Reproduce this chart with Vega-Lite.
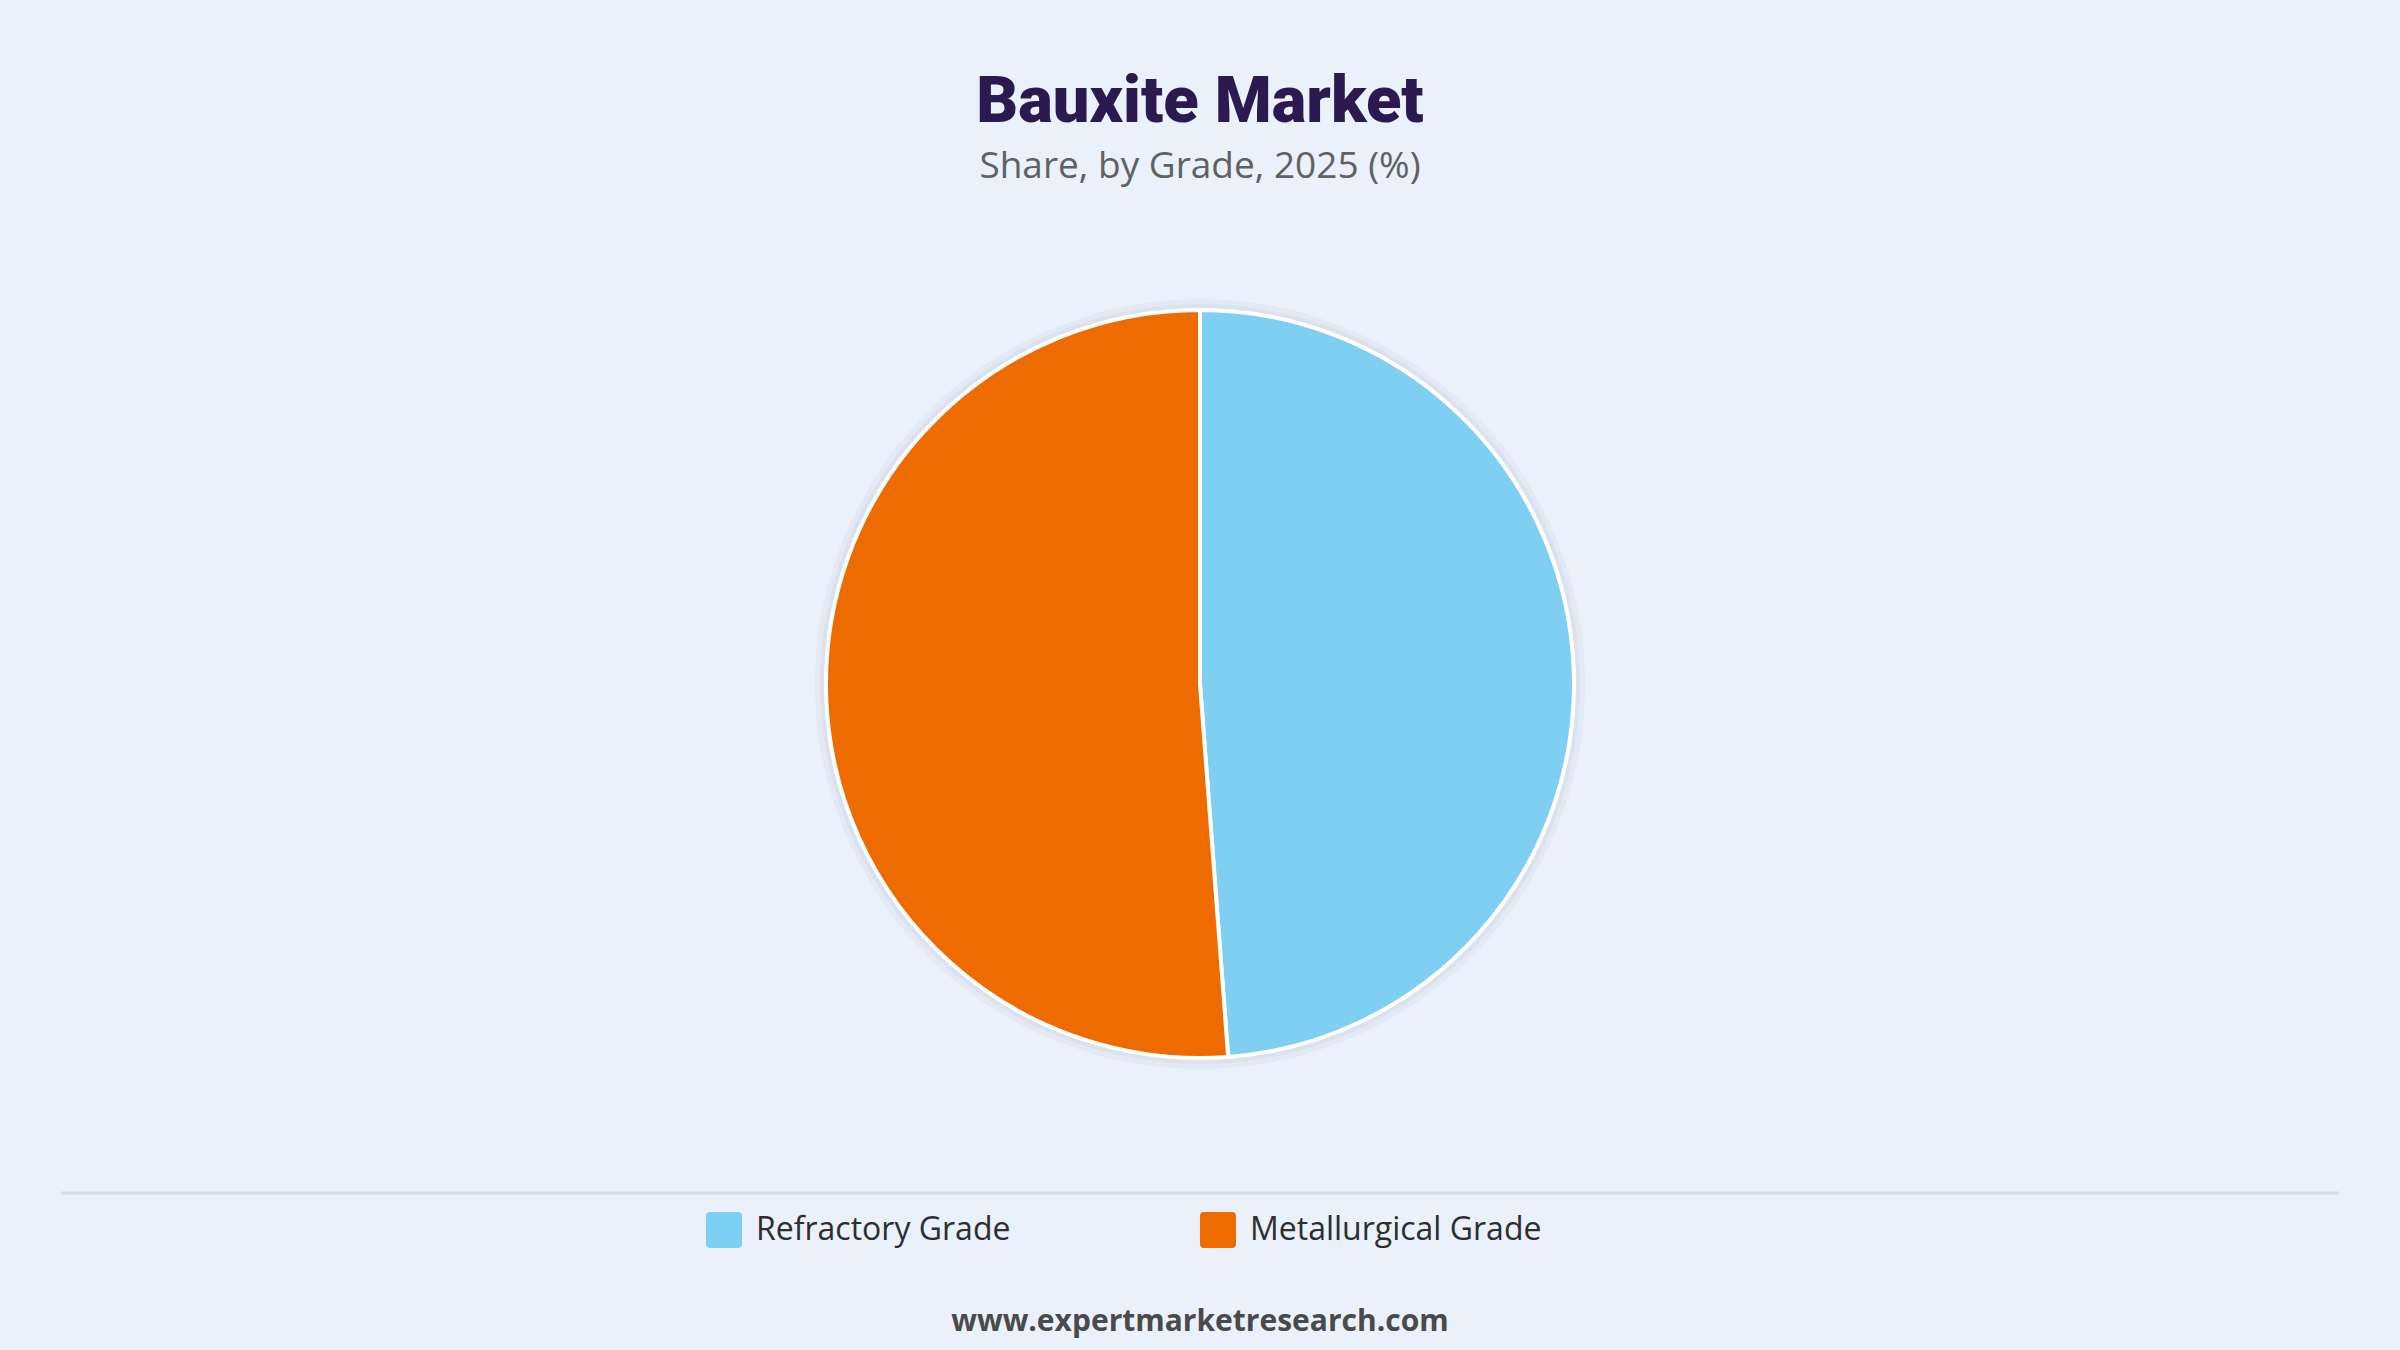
{
  "$schema": "https://vega.github.io/schema/vega-lite/v6.json",
  "autosize": "none",
  "width": 2400,
  "height": 968,
  "padding": {"top": 200, "bottom": 182, "left": 0, "right": 0},
  "background": "#eaf1fb",
  "config": {"view": {"stroke": null}},
  "title": {
    "text": "Bauxite Market",
    "subtitle": "Share, by Grade, 2025 (%)",
    "anchor": "middle",
    "orient": "top",
    "offset": 14,
    "font": "Roboto",
    "fontSize": 65,
    "fontWeight": 900,
    "color": "#2b1a4f",
    "subtitleFont": "Open Sans",
    "subtitleFontSize": 37,
    "subtitleFontWeight": 500,
    "subtitleColor": "#616161",
    "subtitlePadding": 13
  },
  "data": {"values": [
    {"grade": "Refractory Grade", "share": 48.8},
    {"grade": "Metallurgical Grade", "share": 51.2}
  ]},
  "layer": [
    {
      "mark": {"type": "arc", "outerRadius": 385, "color": "#b8c0cc", "opacity": 0.12, "strokeWidth": 0},
      "encoding": {
        "theta": {"field": "share", "type": "quantitative", "stack": true},
        "order": {"field": "share", "sort": "ascending"}
      }
    },
    {
      "mark": {"type": "arc", "outerRadius": 380, "color": "#b8c0cc", "opacity": 0.18, "strokeWidth": 0},
      "encoding": {
        "theta": {"field": "share", "type": "quantitative", "stack": true},
        "order": {"field": "share", "sort": "ascending"}
      }
    },
    {
      "mark": {"type": "arc", "outerRadius": 374, "stroke": "#ffffff", "strokeWidth": 4},
      "encoding": {
        "theta": {"field": "share", "type": "quantitative", "stack": true},
        "order": {"field": "share", "sort": "ascending"},
        "color": {
          "field": "grade",
          "type": "nominal",
          "scale": {"domain": ["Refractory Grade", "Metallurgical Grade"], "range": ["#7fcff2", "#ee6b00"]},
          "legend": {
            "title": null,
            "orient": "none",
            "direction": "horizontal",
            "legendX": 706,
            "legendY": 1012,
            "padding": 0,
            "symbolType": "M-0.78,-1H0.78Q1,-1,1,-0.78V0.78Q1,1,0.78,1H-0.78Q-1,1,-1,0.78V-0.78Q-1,-1,-0.78,-1Z",
            "symbolSize": 1296,
            "symbolStrokeWidth": 0,
            "symbolOpacity": 1,
            "labelFont": "Open Sans",
            "labelFontSize": 32,
            "labelColor": "#2e2e2e",
            "labelOffset": 14,
            "labelLimit": 600,
            "columnPadding": 189
          }
        }
      }
    },
    {
      "data": {"values": [{}]},
      "mark": {"type": "rule", "stroke": "#d9dde3", "strokeWidth": 3},
      "encoding": {"x": {"value": 61}, "x2": {"value": 2339}, "y": {"value": 993}}
    },
    {
      "data": {"values": [{"site": "www.expertmarketresearch.com"}]},
      "mark": {"type": "text", "font": "Open Sans", "fontSize": 30, "fontWeight": "bold", "color": "#4a4a4a", "align": "center", "baseline": "alphabetic"},
      "encoding": {"text": {"field": "site"}, "x": {"value": 1200}, "y": {"value": 1131}}
    }
  ]
}
